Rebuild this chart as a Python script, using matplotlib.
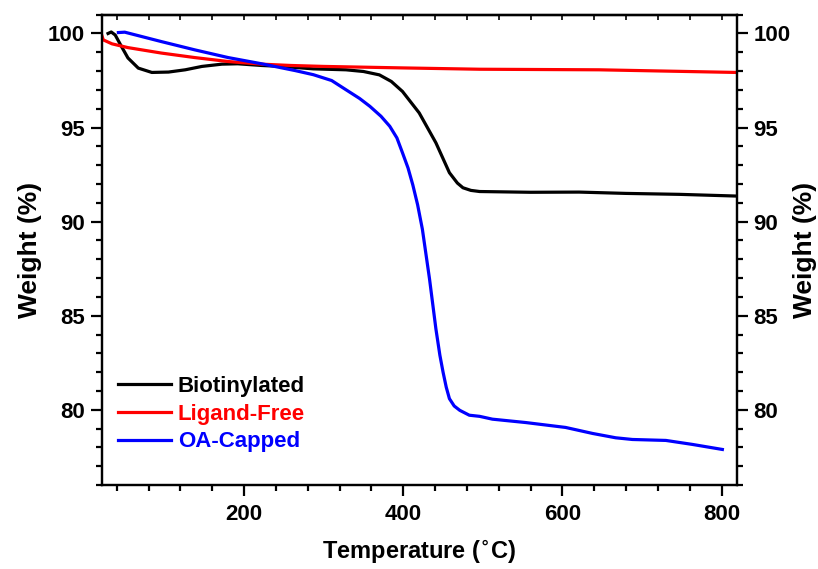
import numpy as np
import matplotlib
matplotlib.use('Agg')
from matplotlib import pyplot as plt
from matplotlib.ticker import MultipleLocator

# TGA curves
bio_t = [29, 33, 38, 46, 54, 67, 84, 105, 126, 147, 172, 192, 222, 247, 287, 328, 350, 370,
         385, 399, 420, 441, 458, 468, 475, 485, 496, 560, 621, 680, 747, 818]
bio_w = [100.0, 100.08, 99.92, 99.3, 98.7, 98.16, 97.93, 97.95, 98.07, 98.25, 98.37, 98.39,
         98.3, 98.25, 98.12, 98.07, 97.98, 97.8, 97.45, 96.92, 95.78, 94.19, 92.6, 92.05,
         91.8, 91.66, 91.6, 91.56, 91.57, 91.5, 91.45, 91.36]

free_t = [20, 23, 34, 54, 96, 138, 180, 222, 259, 300, 400, 496, 646, 818]
free_w = [100.05, 99.66, 99.45, 99.25, 98.96, 98.72, 98.51, 98.37, 98.3, 98.25, 98.17, 98.1,
          98.07, 97.93]

oa_t = [42, 50, 96, 138, 180, 222, 264, 287, 310, 328, 345, 358, 372, 383, 392, 399, 406, 412,
        418, 424, 433, 441, 446, 450, 454, 458, 464, 471, 483, 496, 512, 554, 604, 638, 667,
        688, 730, 763, 801]
oa_w = [100.05, 100.07, 99.57, 99.13, 98.72, 98.39, 98.03, 97.81, 97.5, 97.01, 96.55, 96.13,
        95.6, 95.07, 94.45, 93.66, 92.85, 91.95, 90.9, 89.6, 86.95, 84.3, 82.9, 82.0, 81.2,
        80.59, 80.2, 79.97, 79.71, 79.65, 79.5, 79.32, 79.06, 78.74, 78.51, 78.42, 78.37,
        78.16, 77.89]

labels = ['Biotinylated', 'Ligand-Free', 'OA-Capped']
colors = ['black', 'red', 'blue']

plt.rcParams['font.family'] = ['Liberation Sans', 'DejaVu Sans']
plt.rcParams['font.weight'] = 'bold'
fs = 16

fig = plt.figure(figsize=(8.18, 5.69), dpi=100)
ax = fig.add_axes([0.1243, 0.1476, 0.7763, 0.8266])

for t, w, lab, c in zip([bio_t, free_t, oa_t], [bio_w, free_w, oa_w], labels, colors):
    ax.plot(t, w, color=c, lw=2.3, label=lab)

ax.set_xlim(21, 819)
ax.set_ylim(76, 101)
ax.xaxis.set_major_locator(MultipleLocator(200))
ax.xaxis.set_minor_locator(MultipleLocator(40))
ax.yaxis.set_major_locator(MultipleLocator(5))
ax.yaxis.set_minor_locator(MultipleLocator(1))
ax.tick_params(which='major', length=8, width=1.6, direction='out', labelsize=fs, pad=4)
ax.tick_params(axis='x', which='major', pad=6)
ax.tick_params(which='minor', length=4.5, width=1.6, direction='out')
for s in ax.spines.values():
    s.set_linewidth(1.6)

ax.set_xlabel(r'Temperature ($^{\circ}$C)', fontsize=17, fontweight='bold', labelpad=9)
ax.set_ylabel('Weight (%)', fontsize=19, fontweight='bold', labelpad=4)

# right axis mirrors the left one
ax2 = ax.twinx()
ax2.set_ylim(ax.get_ylim())
ax2.yaxis.set_major_locator(MultipleLocator(5))
ax2.yaxis.set_minor_locator(MultipleLocator(1))
ax2.tick_params(which='major', length=8, width=1.6, direction='out', labelsize=fs, pad=4)
ax2.tick_params(which='minor', length=4.5, width=1.6, direction='out')
ax2.set_ylabel('Weight (%)', fontsize=19, fontweight='bold', labelpad=2)
for s in ax2.spines.values():
    s.set_linewidth(1.6)

# top spine: small inward ticks, no labels
top = ax.secondary_xaxis('top')
top.xaxis.set_major_locator(MultipleLocator(200))
top.xaxis.set_minor_locator(MultipleLocator(40))
top.tick_params(which='both', direction='in', length=3.5, width=1.2, labeltop=False)
top.spines['top'].set_linewidth(1.6)

leg = ax.legend(loc='lower left', bbox_to_anchor=(-0.006, 0.027), frameon=False,
                fontsize=fs, handlelength=2.4, handletextpad=0.3, labelspacing=0.3)
for txt, c in zip(leg.get_texts(), colors):
    txt.set_color(c)

plt.savefig('out.png', dpi=100)
plt.close()
